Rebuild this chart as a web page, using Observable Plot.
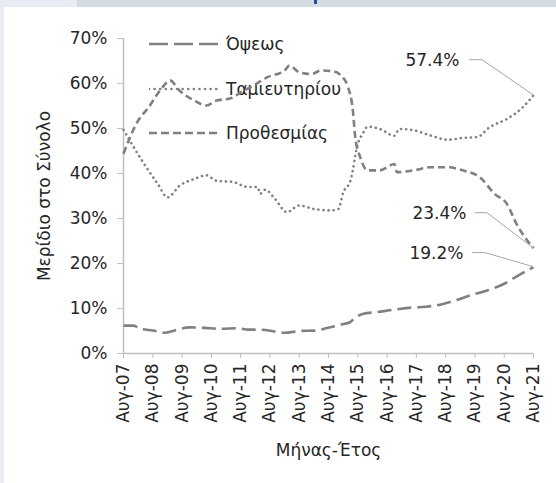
<!DOCTYPE html>
<html>
<head>
<meta charset="utf-8">
<script src="https://cdn.jsdelivr.net/npm/d3@7"></script>
<script src="https://cdn.jsdelivr.net/npm/@observablehq/plot@0.6"></script>
<style>
  html, body { margin: 0; padding: 0; background: #ffffff; }
  body { width: 556px; height: 483px; position: relative; overflow: hidden; font-family: "DejaVu Sans", sans-serif; }
  .band { position: absolute; }
  #legend { position: absolute; left: 149px; top: 0; z-index: 1; }
  .lg-row { position: absolute; left: 0; display: flex; align-items: center; white-space: nowrap; font-size: 17px; color: #262626; height: 24px; }
  .lg-row svg { margin-right: 8px; }
  #chart { position: absolute; left: 0; top: 0; z-index: 2; }
</style>
</head>
<body>
<div class="band" style="left:0;top:0;width:4px;height:483px;background:#e8edf5"></div>
<div class="band" style="left:0;top:0;width:77px;height:7px;background:#e8edf5"></div>
<div class="band" style="left:77px;top:0;width:479px;height:7px;background:#d3dbe3"></div>
<div class="band" style="left:314px;top:0;width:3px;height:4px;background:#1f4e99"></div>
<div id="legend"></div>
<div id="chart"></div>
<script>
// ---- data (share of total, %) ----
const seriesNames = ["Όψεως", "Ταμιευτηρίου", "Προθεσμίας"];

const opsewsDates = ["2007-08","2007-12","2008-03","2008-08","2009-01","2009-06","2009-11","2010-05","2010-12","2011-07","2011-11","2012-04","2012-10","2013-02","2013-08","2014-03","2014-07","2015-01","2015-05","2015-06","2015-10","2016-04","2016-09","2017-01","2017-06","2017-12","2018-07","2018-12","2019-06","2020-01","2020-08","2021-01","2021-08"];
const opsewsValues = [6.2,6.2,5.5,5.1,4.6,5.3,5.8,5.7,5.5,5.6,5.3,5.3,4.9,4.6,5.0,5.1,5.6,6.4,7.0,7.5,8.8,9.2,9.6,9.9,10.2,10.4,11.0,11.8,12.9,14.0,15.5,17.1,19.2];

const tamieutiriouDates = ["2007-08","2008-04","2008-10","2009-02","2009-07","2010-01","2010-06","2010-10","2011-05","2011-11","2012-03","2012-04","2012-06","2012-10","2013-03","2013-08","2014-02","2014-09","2014-12","2015-02","2015-05","2015-06","2015-07","2015-08","2015-10","2015-12","2016-05","2016-11","2017-01","2017-07","2018-02","2018-09","2019-03","2019-09","2020-02","2020-09","2021-03","2021-08"];
const tamieutiriouValues = [49.7,42.5,37.7,34.7,37.3,38.8,39.6,38.4,38.1,37.0,37.0,35.5,36.4,34.4,31.4,32.9,32.1,31.8,32.1,35.8,38.4,40.7,44.0,46.5,48.8,50.4,49.9,48.4,49.9,49.6,48.4,47.5,47.9,48.1,50.3,52.1,54.4,57.4];

const prothesmiasDates = ["2007-08","2008-02","2008-06","2008-12","2009-03","2009-07","2010-01","2010-06","2010-10","2011-04","2011-08","2012-01","2012-07","2013-02","2013-04","2013-08","2014-01","2014-05","2014-10","2015-01","2015-04","2015-06","2015-07","2015-09","2015-12","2016-05","2016-11","2016-12","2017-07","2018-02","2018-09","2019-03","2019-10","2020-04","2020-09","2021-01","2021-08"];
const prothesmiasValues = [44.4,51.8,54.5,59.2,60.7,58.4,56.2,55.1,56.2,56.7,58.0,59.5,61.4,62.9,64.0,62.5,62.1,62.9,62.7,61.8,59.2,54.0,48.0,43.6,40.7,40.7,42.1,40.3,40.7,41.4,41.4,40.7,39.2,35.5,33.3,28.8,23.4];

const xTickDates = ["2007-08","2008-08","2009-08","2010-08","2011-08","2012-08","2013-08","2014-08","2015-08","2016-08","2017-08","2018-08","2019-08","2020-08","2021-08"];
const xTickLabels = ["Αυγ-07","Αυγ-08","Αυγ-09","Αυγ-10","Αυγ-11","Αυγ-12","Αυγ-13","Αυγ-14","Αυγ-15","Αυγ-16","Αυγ-17","Αυγ-18","Αυγ-19","Αυγ-20","Αυγ-21"];
const yTicks = [0,10,20,30,40,50,60,70];
const endLabels = ["57.4%", "23.4%", "19.2%"];
const endValues = [57.4, 23.4, 19.2];

// ---- build ----
const parse = d3.utcParse("%Y-%m");
const toRows = (dates, values, s) => dates.map((d, i) => ({date: parse(d), value: values[i], series: s}));
const opsews = toRows(opsewsDates, opsewsValues, seriesNames[0]);
const tamieutiriou = toRows(tamieutiriouDates, tamieutiriouValues, seriesNames[1]);
const prothesmias = toRows(prothesmiasDates, prothesmiasValues, seriesNames[2]);
const tickDates = xTickDates.map(parse);
const tickLabelMap = new Map(tickDates.map((d, i) => [+d, xTickLabels[i]]));
const x0 = tickDates[0], x1 = tickDates[tickDates.length - 1];

const lineColor = "#808080";
const axisColor = "#bfbfbf";
const styles = [
  {dash: "14,6", width: 2.6, cap: "butt"},
  {dash: "0.1,5", width: 2.6, cap: "round"},
  {dash: "7,4", width: 2.6, cap: "butt"}
];

// annotation layout offsets (pixels) relative to the end point
const annLayout = [
  {textDx: -74, dy: -35, startDx: -64, elbowDx: -51},
  {textDx: -67, dy: -35, startDx: -58, elbowDx: -46},
  {textDx: -70, dy: -14, startDx: -61, elbowDx: -48}
];
const annData = endValues.map((v, i) => ({date: x1, value: v, label: endLabels[i], ...annLayout[i]}));

const plot = Plot.plot({
  width: 556,
  height: 483,
  marginLeft: 123,
  marginRight: 23,
  marginTop: 38,
  marginBottom: 130,
  style: {background: "transparent", fontFamily: "DejaVu Sans, sans-serif", fontSize: "17px", color: "#262626", overflow: "visible"},
  x: {type: "utc", domain: [x0, x1]},
  y: {domain: [0, 70]},
  marks: [
    Plot.axisX({ticks: tickDates, tickFormat: d => tickLabelMap.get(+d), tickRotate: -90, tickSize: 5, tickPadding: 5, stroke: axisColor, fill: "#262626", label: "Μήνας-Έτος", labelAnchor: "center", labelArrow: "none", labelOffset: 102, fontSize: 17}),
    Plot.axisY({ticks: yTicks, tickFormat: d => d + "%", tickSize: 6, tickPadding: 10, stroke: axisColor, fill: "#262626", label: "Μερίδιο στο Σύνολο", labelAnchor: "center", labelArrow: "none", labelOffset: 86, fontSize: 17}),
    Plot.ruleY([0], {stroke: axisColor, strokeWidth: 1.5}),
    Plot.ruleX([x0], {y1: 0, y2: 70, stroke: axisColor, strokeWidth: 1.5}),
    ...[opsews, tamieutiriou, prothesmias].map((rows, i) => Plot.lineY(rows, {
      x: "date", y: "value", stroke: lineColor, strokeWidth: styles[i].width,
      strokeDasharray: styles[i].dash, strokeLinecap: styles[i].cap, curve: "monotone-x"
    })),
    ...annData.map(a => Plot.text([a], {x: "date", y: "value", text: "label", dx: a.textDx, dy: a.dy, textAnchor: "end", fill: "#262626", fontSize: 17}))
  ]
});
document.getElementById("chart").appendChild(plot);

// leader lines drawn through the plot's own scales
const xs = plot.scale("x"), ys = plot.scale("y");
const fx = xs.apply ? xs.apply : d3.scaleUtc().domain(xs.domain).range(xs.range);
const fy = ys.apply ? ys.apply : d3.scaleLinear().domain(ys.domain).range(ys.range);
const svg = d3.select(plot.tagName.toLowerCase() === "svg" ? plot : plot.querySelector("svg"));
annData.forEach(a => {
  const px = fx(a.date), py = fy(a.value);
  svg.append("polyline")
    .attr("points", [[px + a.startDx, py + a.dy], [px + a.elbowDx, py + a.dy], [px, py]].map(p => p.join(",")).join(" "))
    .attr("fill", "none").attr("stroke", "#a6a6a6").attr("stroke-width", 1);
});

// legend
const legend = d3.select("#legend");
const rowCenters = [44, 89, 133];
seriesNames.forEach((name, i) => {
  const row = legend.append("div").attr("class", "lg-row").style("top", (rowCenters[i] - 12) + "px");
  const s = row.append("svg").attr("width", 69).attr("height", 10);
  s.append("line").attr("x1", 0).attr("x2", 69).attr("y1", 5).attr("y2", 5)
    .attr("stroke", lineColor).attr("stroke-width", styles[i].width)
    .attr("stroke-dasharray", i === 0 ? "19,6" : i === 2 ? "8,4" : "0.1,5.5").attr("stroke-linecap", styles[i].cap);
  row.append("span").text(name);
});
</script>
</body>
</html>
